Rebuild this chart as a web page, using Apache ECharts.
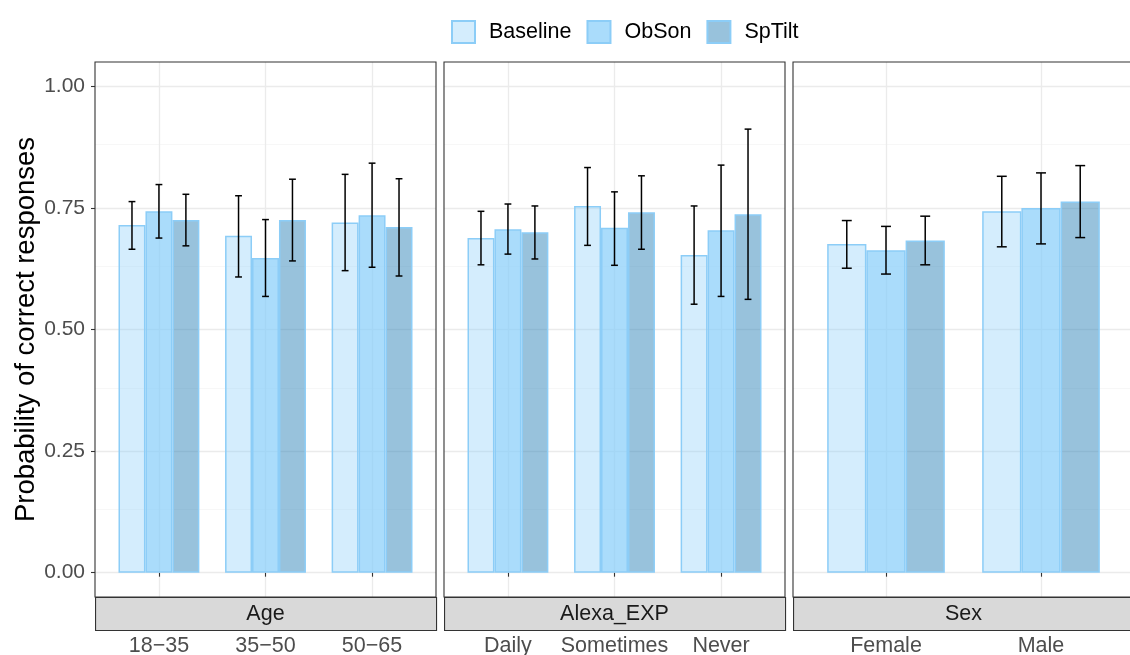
<!DOCTYPE html>
<html><head><meta charset="utf-8">
<script src="https://cdn.jsdelivr.net/npm/echarts@6/dist/echarts.min.js"></script>
<style>html,body{margin:0;padding:0;background:#fff}#c{width:1130px;height:655px}</style>
</head><body><div id="c"></div>
<script>
// ---- data ----
const seriesNames = ['Baseline', 'ObSon', 'SpTilt'];
const panelNames = ['Age', 'Alexa_EXP', 'Sex'];
const ageCats = ['18−35', '35−50', '50−65'];
const alexaCats = ['Daily', 'Sometimes', 'Never'];
const sexCats = ['Female', 'Male'];

// mean values per panel per series
const ageBaseline = [0.715, 0.693, 0.720];
const ageObSon    = [0.743, 0.647, 0.735];
const ageSpTilt   = [0.725, 0.725, 0.711];
const alexaBaseline = [0.688, 0.754, 0.653];
const alexaObSon    = [0.706, 0.709, 0.704];
const alexaSpTilt   = [0.700, 0.741, 0.737];
const sexBaseline = [0.676, 0.743];
const sexObSon    = [0.663, 0.750];
const sexSpTilt   = [0.683, 0.763];

// error bar bounds [lower, upper]
const ageBaselineCI = [[0.665, 0.763], [0.608, 0.775], [0.621, 0.819]];
const ageObSonCI    = [[0.688, 0.798], [0.568, 0.726], [0.628, 0.842]];
const ageSpTiltCI   = [[0.672, 0.778], [0.641, 0.809], [0.610, 0.810]];
const alexaBaselineCI = [[0.633, 0.743], [0.673, 0.833], [0.552, 0.754]];
const alexaObSonCI    = [[0.655, 0.758], [0.632, 0.783], [0.568, 0.838]];
const alexaSpTiltCI   = [[0.645, 0.754], [0.665, 0.816], [0.562, 0.912]];
const sexBaselineCI = [[0.626, 0.724], [0.670, 0.815]];
const sexObSonCI    = [[0.614, 0.712], [0.676, 0.822]];
const sexSpTiltCI   = [[0.633, 0.733], [0.689, 0.837]];

const yTicks = [0, 0.25, 0.5, 0.75, 1.0];
const yMinor = [0.125, 0.375, 0.625, 0.875];

// ---- styles ----
const fills = ['rgba(135,206,250,0.36)', 'rgba(135,206,250,0.71)', 'rgba(49,133,185,0.5)'];
const border = '#8ccdf7';
const FONT = 'Liberation Sans, Arial, sans-serif';
const TXT = 21.5;

const panels = [
  {cats: ageCats, vals: [ageBaseline, ageObSon, ageSpTilt], ci: [ageBaselineCI, ageObSonCI, ageSpTiltCI], left: 95},
  {cats: alexaCats, vals: [alexaBaseline, alexaObSon, alexaSpTilt], ci: [alexaBaselineCI, alexaObSonCI, alexaSpTiltCI], left: 444},
  {cats: sexCats, vals: [sexBaseline, sexObSon, sexSpTilt], ci: [sexBaselineCI, sexObSonCI, sexSpTiltCI], left: 793}
];
const W = 341, TOP = 62, H = 535, STRIP = 33;
const BARW = 0.253; // bar width in category units (ggplot-like)

const grids = [], xAxes = [], yAxes = [], series = [], graphics = [];
panels.forEach((p, gi) => {
  const n = p.cats.length;
  const pos = p.cats.map((c, i) => i + 1);
  grids.push({left: p.left, top: TOP, width: W, height: H, show: true, outerBoundsMode: 'none',
    containLabel: false,
    borderColor: '#333333', borderWidth: 1.1, backgroundColor: 'transparent', z: 3});
  xAxes.push({type: 'value', gridIndex: gi, min: 0.4, max: n + 0.6, position: 'bottom', offset: STRIP,
    axisLine: {show: false},
    axisTick: {show: true, length: 4, lineStyle: {color: '#333333', width: 1.1}, customValues: pos},
    axisLabel: {margin: 5, fontSize: TXT, color: '#4d4d4d', fontFamily: FONT, customValues: pos,
      formatter: v => p.cats[Math.round(v) - 1]},
    splitLine: {show: false}});
  yAxes.push({type: 'value', gridIndex: gi, min: -0.05, max: 1.05,
    axisLine: {show: false},
    axisTick: {show: gi === 0, length: 4, lineStyle: {color: '#333333', width: 1.1}, customValues: yTicks},
    axisLabel: {show: gi === 0, fontSize: TXT - 0.5, color: '#4d4d4d', fontFamily: FONT, margin: 10,
      customValues: yTicks, formatter: v => v.toFixed(2)},
    splitLine: {show: false},
    name: gi === 0 ? 'Probability of correct responses' : '',
    nameLocation: 'middle', nameGap: 55, nameRotate: 90,
    nameTextStyle: {fontSize: 27.5, color: '#000', fontFamily: FONT}});

  // gridlines via markLine on a helper series
  const mlData = [];
  yMinor.forEach(v => mlData.push({yAxis: v, lineStyle: {color: '#f4f4f4', width: 0.7}}));
  yTicks.forEach(v => mlData.push({yAxis: v, lineStyle: {color: '#ebebeb', width: 1.3}}));
  pos.forEach(v => mlData.push({xAxis: v, lineStyle: {color: '#ebebeb', width: 1.3}}));
  series.push({type: 'line', name: 'grid' + gi, xAxisIndex: gi, yAxisIndex: gi, data: [], silent: true,
    z: 0,
    markLine: {silent: true, symbol: ['none', 'none'], label: {show: false}, z: 0, animation: false,
      lineStyle: {type: 'solid'}, data: mlData}});

  seriesNames.forEach((sn, si) => {
    series.push({type: 'bar', name: sn, xAxisIndex: gi, yAxisIndex: gi,
      data: p.vals[si].map((v, i) => [pos[i], v]),
      barWidth: (BARW * 100) + '%', barGap: '0%', z: 2,
      itemStyle: {color: fills[si], borderColor: border, borderWidth: 1.5},
      emphasis: {disabled: true}});
  });
  seriesNames.forEach((sn, si) => {
    series.push({type: 'custom', name: 'err_' + sn + gi, xAxisIndex: gi, yAxisIndex: gi, z: 4,
      data: p.ci[si].map((d, i) => [pos[i], d[0], d[1]]),
      renderItem: function (params, api) {
        const unit = api.size([1, 0])[0];
        const off = (si - 1) * BARW * unit;
        const lo = api.coord([api.value(0), api.value(1)]);
        const hi = api.coord([api.value(0), api.value(2)]);
        const x = lo[0] + off;
        const cap = unit * 0.032;
        const st = {stroke: '#000', lineWidth: 1.5};
        return {type: 'group', children: [
          {type: 'line', shape: {x1: x, y1: lo[1], x2: x, y2: hi[1]}, style: st},
          {type: 'line', shape: {x1: x - cap, y1: lo[1], x2: x + cap, y2: lo[1]}, style: st},
          {type: 'line', shape: {x1: x - cap, y1: hi[1], x2: x + cap, y2: hi[1]}, style: st}
        ]};
      }});
  });

  graphics.push({type: 'rect', left: p.left, top: TOP + H, shape: {width: W, height: STRIP},
    style: {fill: '#d9d9d9', stroke: '#333333', lineWidth: 1.1}, z: 5});
  graphics.push({type: 'text', x: p.left + W / 2, y: TOP + H + STRIP / 2 + 1,
    style: {text: panelNames[gi], fill: '#1a1a1a', font: TXT + 'px ' + FONT, align: 'center', verticalAlign: 'middle'}, z: 6});
});

const chart = echarts.init(document.getElementById('c'), null, {renderer: 'canvas'});
chart.setOption({
  animation: false,
  backgroundColor: '#ffffff',
  legend: {data: seriesNames, left: 446, top: 15, itemWidth: 23, itemHeight: 22, itemGap: 15,
    icon: 'rect', textStyle: {fontSize: TXT, color: '#000', fontFamily: FONT, padding: [0, 0, 0, 9]}},
  grid: grids, xAxis: xAxes, yAxis: yAxes, series: series, graphic: graphics
});
</script></body></html>
